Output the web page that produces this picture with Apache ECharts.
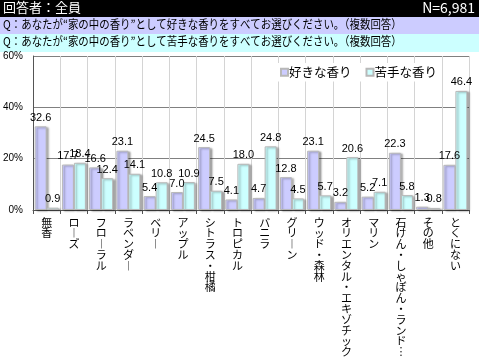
<!DOCTYPE html>
<html><head><meta charset="utf-8">
<script src="https://cdn.jsdelivr.net/npm/echarts@6/dist/echarts.min.js"></script>
<style>html,body{margin:0;padding:0;background:#fff}#c{width:479px;height:359px}</style>
</head><body><div id="c"></div>
<script>
const categories = ['無香','ローズ','フローラル','ラベンダー','ベリー','アップル','シトラス・柑橘','トロピカル','バニラ','グリーン','ウッド・森林','オリエンタル・エキゾチック','マリン','石けん・しゃぼん・ランド…','その他','とくにない'];
const likeValues = [32.6,17.7,16.6,23.1,5.4,7.0,24.5,4.1,4.7,12.8,23.1,3.2,5.2,22.3,1.3,17.6];
const dislikeValues = [0.9,18.4,12.4,14.1,10.8,10.9,7.5,18.0,24.8,4.5,5.7,20.6,7.1,5.8,0.8,46.4];
const seriesNames = ['好きな香り','苦手な香り'];
const yTicks = [0,20,40,60];
const headerLeft = '回答者：全員';
const headerRight = 'N=6,981';
const q1 = 'Q：あなたが“家の中の香り”として好きな香りをすべてお選びください。（複数回答）';
const q2 = 'Q：あなたが“家の中の香り”として苦手な香りをすべてお選びください。（複数回答）';

const JP = '"Noto Sans CJK JP", sans-serif';
const NUM = '"Liberation Sans", "Noto Sans CJK JP", sans-serif';
function vert(s){
  return Array.from(s).map(ch => ch === 'ー' ? '︱' : (ch === '…' ? '︙' : ch)).join('\n');
}
const chart = echarts.init(document.getElementById('c'), null, {renderer:'canvas'});
const barStyle = (color) => ({
  color: color, borderColor: '#b8b8b8', borderWidth: 1,
  shadowColor: 'rgba(0,0,0,0.35)', shadowBlur: 2, shadowOffsetX: 2, shadowOffsetY: 1
});
chart.setOption({
  animation: false,
  textStyle: {fontFamily: JP},
  graphic: [
    {type:'rect', shape:{x:0,y:0,width:479,height:17}, style:{fill:'#000'}},
    {type:'rect', shape:{x:0,y:17,width:479,height:17}, style:{fill:'#ccccff'}},
    {type:'rect', shape:{x:0,y:34,width:479,height:18}, style:{fill:'#ccffff'}},
    {type:'text', x:3, y:1, style:{text:headerLeft, fill:'#fff', font:'13px ' + JP}},
    {type:'text', right:4, top:1, style:{text:headerRight, fill:'#fff', font:'14px ' + JP}},
    {type:'text', x:3, y:18, scaleX:0.87, style:{text:q1, fill:'#000', font:'12px ' + JP}},
    {type:'text', x:3, y:35, scaleX:0.87, style:{text:q2, fill:'#000', font:'12px ' + JP}}
  ],
  grid: {left:33, right:10, top:56, bottom:149, containLabel:false},
  legend: {
    data: seriesNames, top: 63, right: 38, itemWidth: 7, itemHeight: 7, itemGap: 14,
    backgroundColor: '#fff', padding: [3,4],
    textStyle: {fontSize: 12.5, fontFamily: JP, color:'#000', padding:[0,0,0,-4]},
    icon: 'rect'
  },
  xAxis: {
    type: 'category', data: categories,
    axisLine: {lineStyle:{color:'#555', width:1}},
    axisTick: {show:true, length:4, lineStyle:{color:'#555'}},
    splitLine: {show:true, lineStyle:{color:'#d4d4d4', width:1}},
    axisLabel: {
      interval: 0, margin: 7, color:'#000', fontSize: 11, lineHeight: 10.8,
      fontFamily: JP, verticalAlign: 'top', formatter: (v) => vert(v)
    }
  },
  yAxis: {
    type: 'value', min: 0, max: 60, interval: 20,
    axisLine: {show:true, lineStyle:{color:'#555'}},
    axisTick: {show:false},
    splitLine: {show:true, lineStyle:{color:'#808080', width:1}},
    axisLabel: {formatter: (v) => v + '%', color:'#000', fontSize: 10, fontFamily: NUM, margin: 10}
  },
  series: [
    {
      name: seriesNames[0], type: 'bar', data: likeValues,
      barGap: '0%', barCategoryGap: '12%',
      itemStyle: barStyle('#ccccff'),
      label: {show:true, position:'top', distance:3, color:'#000', fontSize:11, fontFamily:NUM,
        formatter: (p) => p.value.toFixed(1)}
    },
    {
      name: seriesNames[1], type: 'bar', data: dislikeValues,
      itemStyle: barStyle('#ccffff'),
      label: {show:true, position:'top', distance:3, color:'#000', fontSize:11, fontFamily:NUM,
        formatter: (p) => p.value.toFixed(1)}
    }
  ]
});
</script></body></html>
